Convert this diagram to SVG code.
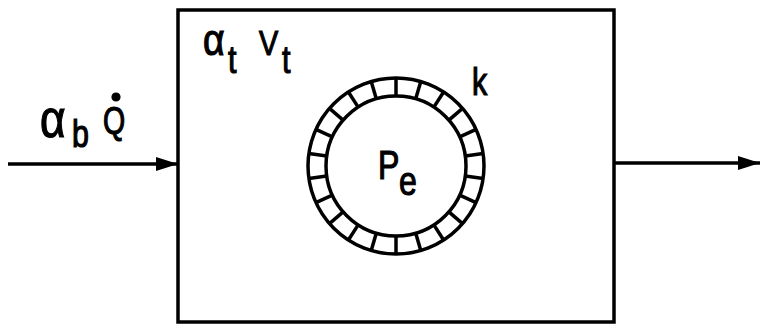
<svg xmlns="http://www.w3.org/2000/svg" width="761" height="325" viewBox="0 0 761 325">
<style>
.ln{stroke:#000;stroke-width:3.5;fill:none}
.t{font-family:"Liberation Sans","DejaVu Sans",sans-serif;fill:#000;stroke:#000;stroke-width:1.2}
</style>
<defs>
<marker id="ah" markerUnits="userSpaceOnUse" markerWidth="24" markerHeight="14" refX="22" refY="7" orient="auto">
<path d="M0,0 L22,7 L0,14 Z" fill="#000"/>
</marker>
</defs>
<rect width="761" height="325" fill="#fff"/>
<g id="connectors">
<line class="ln" x1="8" y1="164" x2="178" y2="164" marker-end="url(#ah)" stroke-width="3"/>
<line class="ln" x1="614" y1="163" x2="760" y2="163" marker-end="url(#ah)" stroke-width="3"/>
</g>
<g id="box">
<rect class="ln" x="178" y="10" width="436" height="312"/>
<g class="t">
<text x="203" y="55" font-size="44" transform="translate(203,0) scale(0.85,1) translate(-203,0)">α</text>
<text x="228" y="73" font-size="38" transform="translate(228,0) scale(0.8,1) translate(-228,0)">t</text>
<text x="259" y="55" font-size="36" transform="translate(259,0) scale(0.8,1) translate(-259,0)">V</text>
<text x="282" y="73" font-size="38" transform="translate(282,0) scale(0.8,1) translate(-282,0)">t</text>
</g>
</g>
<g id="input-label" class="t">
<text x="40" y="137" font-size="54" transform="translate(40,0) scale(0.82,1) translate(-40,0)">α</text>
<text x="72" y="147" font-size="38" transform="translate(72,0) scale(0.8,1) translate(-72,0)">b</text>
<text x="103" y="134" font-size="38" transform="translate(103,0) scale(0.75,1) translate(-103,0)">Q</text>
<circle cx="116" cy="97" r="4" fill="#000"/>
</g>
<g id="sphere">
<circle class="ln" cx="396" cy="166" r="88" stroke-width="4.5"/>
<circle class="ln" cx="396" cy="166" r="70" stroke-width="4.5"/>
<g class="ln" stroke-width="4" transform="translate(396,166)">
<line x1="0" y1="-70" x2="0" y2="-88" transform="rotate(0)"/>
<line x1="0" y1="-70" x2="0" y2="-88" transform="rotate(16.36)"/>
<line x1="0" y1="-70" x2="0" y2="-88" transform="rotate(32.73)"/>
<line x1="0" y1="-70" x2="0" y2="-88" transform="rotate(49.09)"/>
<line x1="0" y1="-70" x2="0" y2="-88" transform="rotate(65.45)"/>
<line x1="0" y1="-70" x2="0" y2="-88" transform="rotate(81.82)"/>
<line x1="0" y1="-70" x2="0" y2="-88" transform="rotate(98.18)"/>
<line x1="0" y1="-70" x2="0" y2="-88" transform="rotate(114.55)"/>
<line x1="0" y1="-70" x2="0" y2="-88" transform="rotate(130.91)"/>
<line x1="0" y1="-70" x2="0" y2="-88" transform="rotate(147.27)"/>
<line x1="0" y1="-70" x2="0" y2="-88" transform="rotate(163.64)"/>
<line x1="0" y1="-70" x2="0" y2="-88" transform="rotate(180)"/>
<line x1="0" y1="-70" x2="0" y2="-88" transform="rotate(196.36)"/>
<line x1="0" y1="-70" x2="0" y2="-88" transform="rotate(212.73)"/>
<line x1="0" y1="-70" x2="0" y2="-88" transform="rotate(229.09)"/>
<line x1="0" y1="-70" x2="0" y2="-88" transform="rotate(245.45)"/>
<line x1="0" y1="-70" x2="0" y2="-88" transform="rotate(261.82)"/>
<line x1="0" y1="-70" x2="0" y2="-88" transform="rotate(278.18)"/>
<line x1="0" y1="-70" x2="0" y2="-88" transform="rotate(294.55)"/>
<line x1="0" y1="-70" x2="0" y2="-88" transform="rotate(310.91)"/>
<line x1="0" y1="-70" x2="0" y2="-88" transform="rotate(327.27)"/>
<line x1="0" y1="-70" x2="0" y2="-88" transform="rotate(343.64)"/>
</g>
<g class="t">
<text x="378" y="179" font-size="40" transform="translate(378,0) scale(0.8,1) translate(-378,0)">P</text>
<text x="399" y="195" font-size="40" transform="translate(399,0) scale(0.8,1) translate(-399,0)">e</text>
</g>
</g>
<g id="k-label" class="t">
<text x="472" y="95" font-size="38" transform="translate(472,0) scale(0.8,1) translate(-472,0)">k</text>
</g>
</svg>
